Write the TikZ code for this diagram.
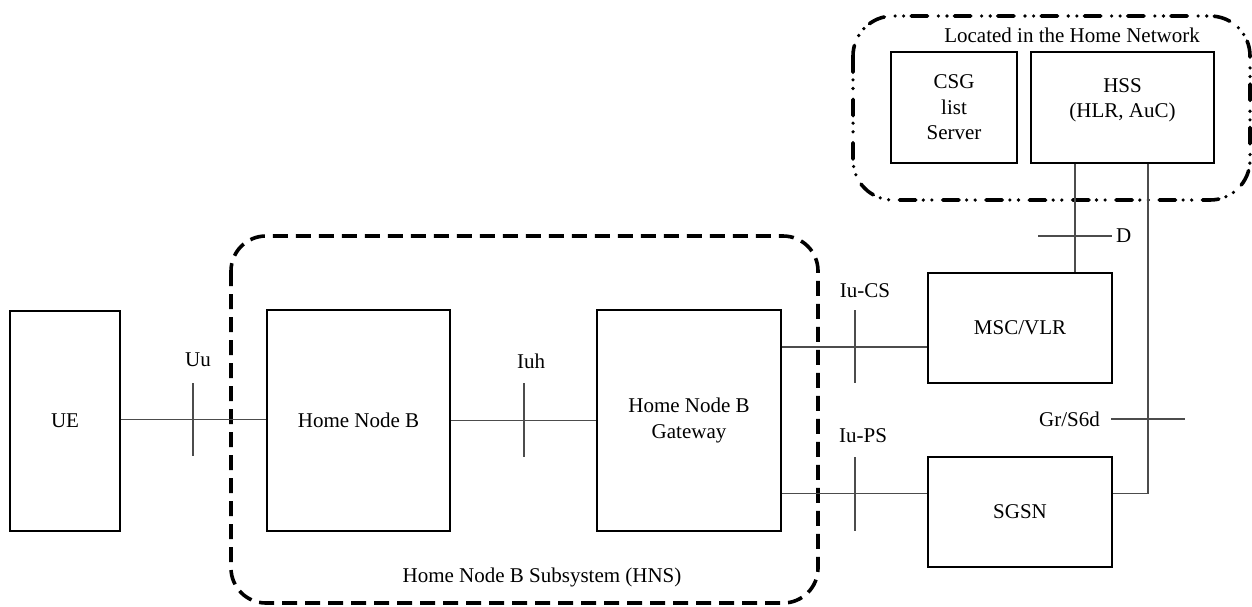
\documentclass[tikz,border=0pt]{standalone}
\usepackage{fontspec}
\setmainfont{Liberation Serif}
\begin{document}
\begin{tikzpicture}[x=1pt,y=-1pt,
  every node/.style={font=\fontsize{21pt}{25.5pt}\selectfont, inner sep=0pt},
  box/.style={draw=black, line width=1.1pt, align=center},
  conn/.style={draw=black!70, line width=1.1pt},
  tick/.style={draw=black!70, line width=1.1pt},
  hns/.style={draw=black, line width=3.6pt, dash pattern=on 15pt off 8pt, rounded corners=35pt},
  homenet/.style={draw=black, line width=3.6pt, line cap=round, dash pattern=on 16.4pt off 7.5pt on 0pt off 8.6pt on 0pt off 10.8pt, rounded corners=40pt}]
\useasboundingbox (0,0) rectangle (1252,606);

% regions
\draw[hns] (231,236) rectangle (818,603);
\draw[homenet] (853,16) rectangle (1250,200);
\node (hnslbl) at (542,577) {Home Node B Subsystem (HNS)};
\node (homelbl) at (1072,35) {Located in the Home Network};

% boxes
\node[box, minimum width=110pt, minimum height=220pt] (UE) at (65,421) {UE};
\node[box, minimum width=183pt, minimum height=221pt] (HNB) at (358.5,420.5) {Home Node B};
\node[box, minimum width=184pt, minimum height=221pt] (GW) at (689,420.5) {Home Node B\\Gateway};
\node[box, minimum width=184pt, minimum height=110pt] (MSC) at (1020,328) {MSC/VLR};
\node[box, minimum width=184pt, minimum height=110pt] (SGSN) at (1020,512) {SGSN};
\node[box, minimum width=126pt, minimum height=111pt] (CSG) at (954,107.5) {CSG\\list\\Server};
\node[box, minimum width=183pt, minimum height=111pt] (HSS) at (1122.5,107.5) {};
\node[align=center] (HSSt) at (1122.5,100.5) {HSS\\(HLR, AuC)};

% coordinates for connector levels
\coordinate (yUu) at (0,419.5);
\coordinate (yCS) at (0,347);
\coordinate (yPS) at (0,493.5);
\coordinate (xD) at (1075,0);
\coordinate (xG) at (1148,0);
\coordinate (corner) at (1148,493.5);

% connectors
\draw[conn] (UE.east |- yUu) -- (HNB.west |- yUu);
\draw[conn] (HNB.east) -- (GW.west);
\draw[conn] (GW.east |- yCS) -- (MSC.west |- yCS);
\draw[conn] (GW.east |- yPS) -- (SGSN.west |- yPS);
\draw[conn] (HSS.south -| xD) -- (MSC.north -| xD);
\draw[conn] (HSS.south -| xG) -- (corner) -- (SGSN.east |- corner);

% interface ticks
\draw[tick] (193,383) -- (193,456);
\draw[tick] (524,383) -- (524,457);
\draw[tick] (855,310) -- (855,383);
\draw[tick] (855,457) -- (855,531);
\draw[tick] (1038,236) -- (1112,236);
\draw[tick] (1111,419) -- (1185,419);

% interface labels
\node (Uu) at (198,360) {Uu};
\node (Iuh) at (531,361) {Iuh};
\node (IuCS) at (865,291) {Iu-CS};
\node (IuPS) at (863,436) {Iu-PS};
\node[anchor=west] (D) at (1116,236) {D};
\node[anchor=east] (Gr) at (1100,419) {Gr/S6d};
\end{tikzpicture}
\end{document}
